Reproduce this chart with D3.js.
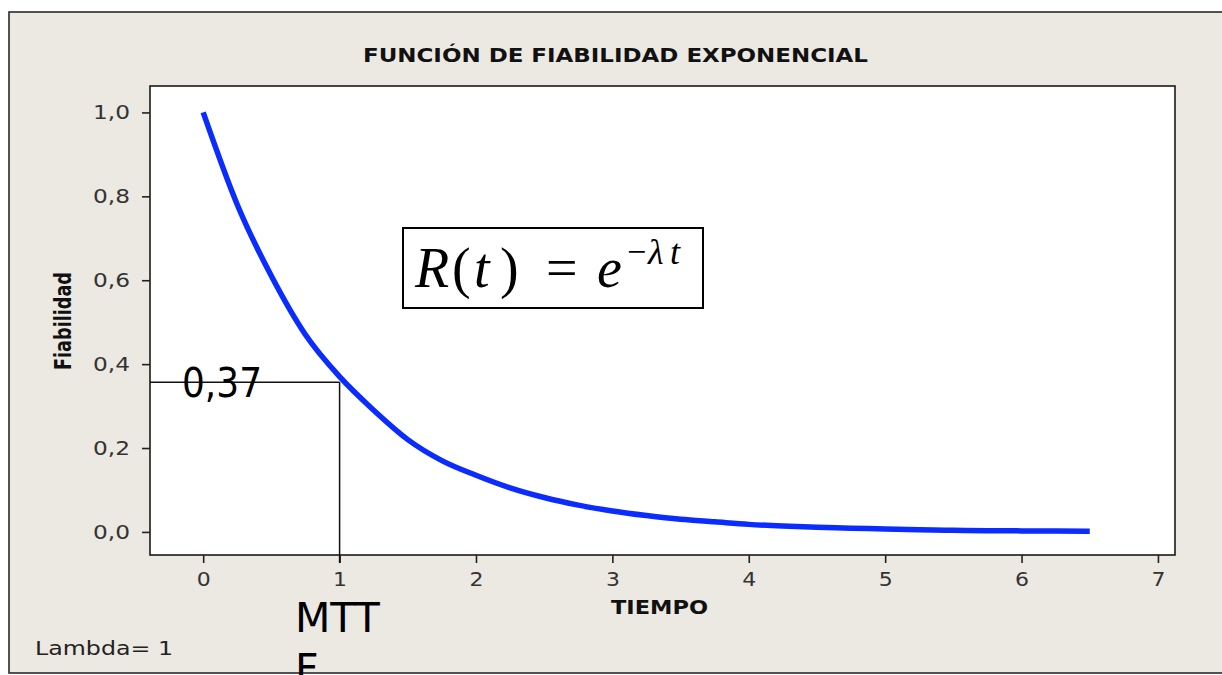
<!DOCTYPE html>
<html>
<head>
<meta charset="utf-8">
<script src="https://cdn.jsdelivr.net/npm/d3@7"></script>
<style>
  html, body { margin: 0; padding: 0; background: #ffffff; }
  svg { display: block; }
</style>
</head>
<body>
<svg id="chart" width="1222" height="675"></svg>
<script>
// ---- data ----
const timeValues = [0, 0.25, 0.5, 0.75, 1, 1.25, 1.5, 1.75, 2, 2.25, 2.5, 2.75, 3, 3.25, 3.5, 3.75, 4, 4.25, 4.5, 4.75, 5, 5.25, 5.5, 5.75, 6, 6.25, 6.5];
const reliabilityValues = [1.00, 0.78, 0.61, 0.47, 0.37, 0.29, 0.22, 0.17, 0.135, 0.105, 0.082, 0.064, 0.05, 0.039, 0.03, 0.024, 0.018, 0.014, 0.011, 0.009, 0.007, 0.005, 0.004, 0.003, 0.0025, 0.002, 0.0015];
const xTickValues = [0, 1, 2, 3, 4, 5, 6, 7];
const xTickLabels = ["0", "1", "2", "3", "4", "5", "6", "7"];
const yTickValues = [0, 0.2, 0.4, 0.6, 0.8, 1.0];
const yTickLabels = ["0,0", "0,2", "0,4", "0,6", "0,8", "1,0"];
const mttfTime = [1];
const mttfReliability = [0.357];
const titleText = "FUNCIÓN DE FIABILIDAD EXPONENCIAL";
const xAxisTitle = "TIEMPO";
const yAxisTitle = "Fiabilidad";
const footnoteText = "Lambda= 1";
const refValueLabel = "0,37";
const mttfLabelLines = ["MTT", "F"];

// ---- layout ----
const svg = d3.select("#chart");
const plot = { left: 150, top: 86, right: 1175, bottom: 555 };
const x = d3.scaleLinear().domain([-0.39, 7.125]).range([plot.left, plot.right]);
const y = d3.scaleLinear().domain([-0.055, 1.063]).range([plot.bottom, plot.top]);
const sans = "DejaVu Sans, Verdana, sans-serif";

// outer frame (beige panel)
svg.append("rect")
  .attr("x", 9).attr("y", 12).attr("width", 1240).attr("height", 661)
  .attr("fill", "#ECE9E2").attr("stroke", "#2a2a2a").attr("stroke-width", 1.6);

// plot area
svg.append("rect")
  .attr("x", plot.left).attr("y", plot.top)
  .attr("width", plot.right - plot.left).attr("height", plot.bottom - plot.top)
  .attr("fill", "#ffffff").attr("stroke", "#1a1a1a").attr("stroke-width", 1.6);

// title
svg.append("text")
  .attr("x", 363).attr("y", 62)
  .attr("textLength", 505).attr("lengthAdjust", "spacingAndGlyphs")
  .attr("font-family", sans)
  .attr("font-weight", "bold").attr("font-size", 20).attr("fill", "#111")
  .text(titleText);

// axes
const xAxis = svg.append("g")
  .attr("transform", `translate(0,${plot.bottom})`)
  .call(d3.axisBottom(x).tickValues(xTickValues)
    .tickFormat((d, i) => xTickLabels[i]).tickSize(8).tickSizeOuter(0).tickPadding(9));
const yAxis = svg.append("g")
  .attr("transform", `translate(${plot.left},0)`)
  .call(d3.axisLeft(y).tickValues(yTickValues)
    .tickFormat((d, i) => yTickLabels[i]).tickSize(8).tickSizeOuter(0).tickPadding(12));
[xAxis, yAxis].forEach(g => {
  g.select(".domain").remove();
  g.selectAll(".tick line").attr("stroke", "#222").attr("stroke-width", 1.6);
  g.selectAll(".tick text")
    .attr("font-family", sans).attr("font-size", 20).attr("fill", "#333");
});
xAxis.selectAll(".tick text").attr("textLength", 14).attr("lengthAdjust", "spacingAndGlyphs");
yAxis.selectAll(".tick text").attr("textLength", 37).attr("lengthAdjust", "spacingAndGlyphs");

// axis titles
svg.append("text")
  .attr("x", 611).attr("y", 614)
  .attr("textLength", 97).attr("lengthAdjust", "spacingAndGlyphs")
  .attr("font-family", sans)
  .attr("font-weight", "bold").attr("font-size", 20).attr("fill", "#111")
  .text(xAxisTitle);
svg.append("text")
  .attr("transform", "translate(71,321) rotate(-90)")
  .attr("text-anchor", "middle")
  .attr("textLength", 98).attr("lengthAdjust", "spacingAndGlyphs")
  .attr("font-family", sans)
  .attr("font-weight", "bold").attr("font-size", 23).attr("fill", "#111")
  .text(yAxisTitle);

// reliability curve
const curveData = timeValues.map((t, i) => ({ t, r: reliabilityValues[i] }));
svg.append("path")
  .datum(curveData)
  .attr("fill", "none").attr("stroke", "#0A2CFF").attr("stroke-width", 5.5)
  .attr("stroke-linecap", "butt").attr("stroke-linejoin", "round")
  .attr("d", d3.line().x(d => x(d.t)).y(d => y(d.r)).curve(d3.curveMonotoneX));

// MTTF reference lines
const refPts = mttfTime.map((t, i) => ({ t, r: mttfReliability[i] }));
refPts.forEach(p => {
  svg.append("line")
    .attr("x1", plot.left).attr("x2", x(p.t))
    .attr("y1", y(p.r)).attr("y2", y(p.r))
    .attr("stroke", "#111").attr("stroke-width", 1.5);
  svg.append("line")
    .attr("x1", x(p.t)).attr("x2", x(p.t))
    .attr("y1", y(p.r)).attr("y2", plot.bottom + 8)
    .attr("stroke", "#111").attr("stroke-width", 1.5);
});

// 0,37 label
svg.append("text")
  .attr("x", 182).attr("y", 397)
  .attr("textLength", 80).attr("lengthAdjust", "spacingAndGlyphs")
  .attr("font-family", sans)
  .attr("font-size", 41).attr("fill", "#000")
  .text(refValueLabel);

// MTTF label (wrapped, second line runs off the bottom edge as in the reference)
const mt = svg.append("text")
  .attr("font-family", sans)
  .attr("font-size", 41).attr("fill", "#000");
mt.selectAll("tspan").data(mttfLabelLines).join("tspan")
  .attr("x", 295).attr("y", (d, i) => 632 + i * 51)
  .text(d => d);

// footnote
svg.append("text")
  .attr("x", 35).attr("y", 655)
  .attr("textLength", 138).attr("lengthAdjust", "spacingAndGlyphs")
  .attr("font-family", sans)
  .attr("font-size", 19).attr("fill", "#222")
  .text(footnoteText);

// formula box
svg.append("rect")
  .attr("x", 403).attr("y", 228).attr("width", 300).attr("height", 80)
  .attr("fill", "#ffffff").attr("stroke", "#000").attr("stroke-width", 2);
const f = svg.append("text")
  .attr("font-family", "Liberation Serif, Times New Roman, serif")
  .attr("fill", "#000");
const pieces = [
  { s: "R", x: 415, y: 287, it: true, fs: 56 },
  { s: "(", x: 452, y: 287, it: false, fs: 56 },
  { s: "t", x: 474, y: 287, it: true, fs: 56 },
  { s: ")", x: 500, y: 287, it: false, fs: 56 },
  { s: "=", x: 546, y: 287, it: false, fs: 56 },
  { s: "e", x: 597, y: 287, it: true, fs: 56 },
  { s: "\u2212", x: 627, y: 263, it: false, fs: 34 },
  { s: "\u03BB", x: 648, y: 264, it: true, fs: 36 },
  { s: "t", x: 670, y: 264, it: true, fs: 36 }
];
f.selectAll("tspan").data(pieces).join("tspan")
  .attr("x", d => d.x).attr("y", d => d.y)
  .attr("font-style", d => d.it ? "italic" : "normal")
  .attr("font-size", d => d.fs)
  .text(d => d.s);
</script>
</body>
</html>
